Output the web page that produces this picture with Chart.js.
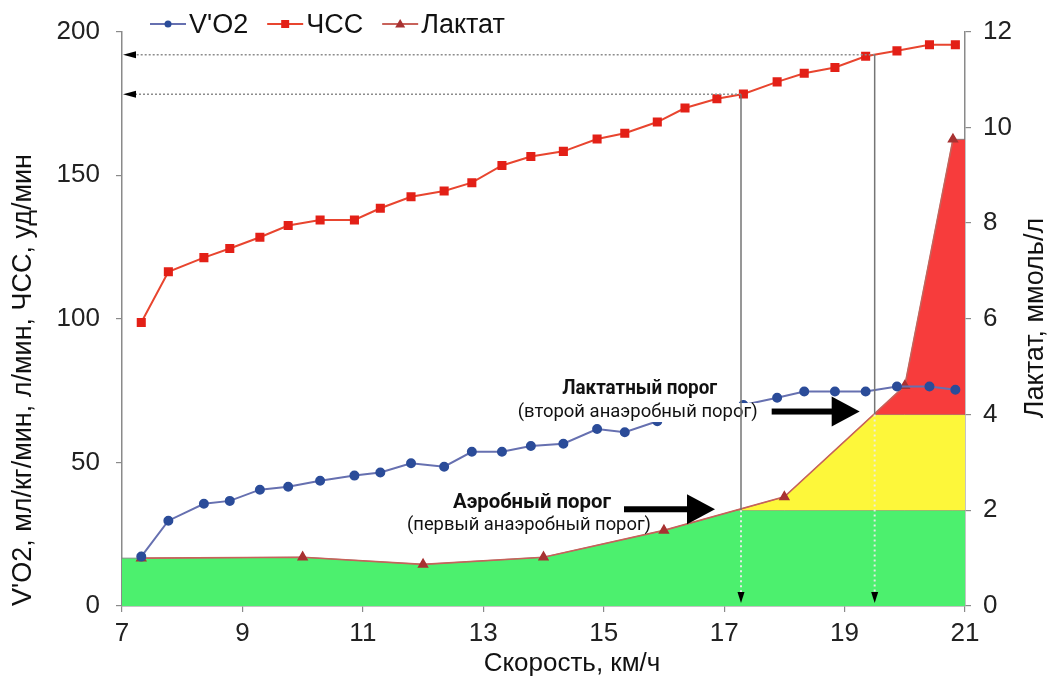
<!DOCTYPE html>
<html><head><meta charset="utf-8">
<script src="https://cdn.jsdelivr.net/npm/chart.js@4.4.0/dist/chart.umd.min.js"></script>
<style>html,body{margin:0;padding:0;background:#fff;}#wrap{width:1056px;height:682px;position:relative;}</style>
</head><body><div id="wrap"><canvas id="c" width="1056" height="682"></canvas></div>
<script>
// ---- data ----
const speed = [7.32,7.77,8.36,8.79,9.29,9.76,10.29,10.86,11.29,11.80,12.35,12.81,13.31,13.79,14.33,14.89,15.35,15.89,16.35,16.88,17.32,17.88,18.33,18.84,19.35,19.87,20.41,20.84];
const vo2 = [17.2,29.7,35.6,36.6,40.5,41.5,43.6,45.4,46.5,49.7,48.5,53.7,53.7,55.7,56.5,61.6,60.5,64.3,66.5,68.0,70.0,72.5,74.7,74.7,74.7,76.4,76.4,75.3];
const hr = [98.7,116.4,121.3,124.5,128.4,132.5,134.4,134.4,138.5,142.5,144.5,147.4,153.4,156.5,158.3,162.6,164.6,168.5,173.4,176.6,178.3,182.5,185.5,187.5,191.4,193.3,195.4,195.4];
const lactateSpeed = [7.32,10,12,14,16,18,20,20.8];
const lactate = [1.0,1.02,0.87,1.02,1.58,2.28,4.6,9.75];
const thresholdSpeed = [17.28,19.5];
const thresholdLactate = [2,4];
const xTicks = [7,9,11,13,15,17,19,21];
const leftTicks = [0,50,100,150,200];
const rightTicks = [0,2,4,6,8,10,12];
const seriesNames = ["V'O2","ЧСС","Лактат"];
const xTitle = "Скорость, км/ч";
const yTitle = "V'O2, мл/кг/мин, л/мин, ЧСС, уд/мин";
const y2Title = "Лактат, ммоль/л";
const notes = [["Аэробный порог","(первый анаэробный порог)"],["Лактатный порог","(второй анаэробный порог)"]];

// ---- helpers ----
const pts = (xs, ys) => xs.map((x,i)=>({x, y: ys[i]}));
function interp(xs, ys, x){
  for(let i=0;i<xs.length-1;i++){
    if(x>=xs[i] && x<=xs[i+1]) return ys[i]+(ys[i+1]-ys[i])*(x-xs[i])/(xs[i+1]-xs[i]);
  }
  return ys[ys.length-1];
}
// lactate polyline extended to axis ends, with crossings at threshold levels
const ext = [{x:xTicks[0], y:lactate[0]}, ...pts(lactateSpeed, lactate), {x:xTicks[xTicks.length-1], y:lactate[lactate.length-1]}];
const poly = [];
for(let i=0;i<ext.length;i++){
  poly.push(ext[i]);
  if(i<ext.length-1){
    const a=ext[i], b=ext[i+1];
    thresholdLactate.forEach(L=>{
      if((a.y-L)*(b.y-L)<0){ poly.push({x:a.x+(b.x-a.x)*(L-a.y)/(b.y-a.y), y:L}); }
    });
  }
}
poly.sort((p,q)=>p.x-q.x);
function zone(lo, hi){ return poly.map(p=>({x:p.x, y:Math.min(Math.max(p.y,lo),hi)})); }
const zoneBorder = lo => ({borderColor: c => (c.p0.parsed.y<=lo+1e-9 && c.p1.parsed.y<=lo+1e-9) ? 'rgba(0,0,0,0)' : 'rgba(120,120,120,0.8)'});

const FONT = "'Liberation Sans', Arial, sans-serif";

const overlay = {
  id:'overlay',
  afterDatasetsDraw(chart){
    const {ctx, chartArea:ca, scales:{x, y, y2}} = chart;
    ctx.save();
    const t1x = x.getPixelForValue(thresholdSpeed[0]), t1y = y2.getPixelForValue(thresholdLactate[0]);
    const t2x = x.getPixelForValue(thresholdSpeed[1]), t2y = y2.getPixelForValue(thresholdLactate[1]);
    // annotation text (optionally on a white backing)
    const fit = (txt, cx, cy, w, font, back) => {
      if(back){ ctx.fillStyle='#fff'; ctx.fillRect(cx-w/2-2+back[0], cy-back[2]/2, w+4+back[1], back[2]); }
      ctx.font = font; const m = ctx.measureText(txt).width;
      ctx.save(); ctx.translate(cx, cy); ctx.scale(w/m, 1);
      ctx.textAlign='center'; ctx.textBaseline='middle'; ctx.fillStyle='#111';
      ctx.fillText(txt, 0, 0); ctx.restore();
    };
    fit(notes[0][0], t1x-209, t1y-7, 158, "bold 20px Roboto, sans-serif", null);
    fit(notes[0][1], t1x-212, t1y+15, 244, "18px Roboto, sans-serif", null);
    fit(notes[1][0], t2x-235, t2y-26, 155, "bold 20px Roboto, sans-serif", [0,0,20]);
    fit(notes[1][1], t2x-237, t2y-2, 240, "18px Roboto, sans-serif", [0,10,19]);
    // annotation arrows
    const arrow = (x0, x1, yy) => {
      ctx.fillStyle='#000';
      ctx.fillRect(x0, yy-3, (x1-26)-x0, 6);
      ctx.beginPath(); ctx.moveTo(x1, yy); ctx.lineTo(x1-28, yy-15); ctx.lineTo(x1-28, yy+15); ctx.closePath(); ctx.fill();
    };
    arrow(t1x-117, t1x-26, t1y-1);
    arrow(t2x-103, t2x-15, t2y-3);
    // threshold guide lines
    thresholdSpeed.forEach((s,i)=>{
      const px = x.getPixelForValue(s);
      const hv = interp(speed, hr, s);
      const py = y.getPixelForValue(hv);
      const ly = y2.getPixelForValue(thresholdLactate[i]);
      ctx.strokeStyle='#8c8c8c'; ctx.lineWidth=1.5; ctx.setLineDash([2,2]);
      ctx.beginPath(); ctx.moveTo(px, py); ctx.lineTo(ca.left+10, py); ctx.stroke();
      ctx.setLineDash([]); ctx.strokeStyle='#757575'; ctx.lineWidth=1.5;
      ctx.beginPath(); ctx.moveTo(px, py); ctx.lineTo(px, ly); ctx.stroke();
      ctx.strokeStyle='rgba(235,235,235,0.95)'; ctx.lineWidth=2; ctx.setLineDash([2,3]);
      ctx.beginPath(); ctx.moveTo(px, ly); ctx.lineTo(px, ca.bottom-8); ctx.stroke();
      ctx.setLineDash([]);
      ctx.fillStyle='#000';
      ctx.beginPath(); ctx.moveTo(ca.left+1, py); ctx.lineTo(ca.left+14, py-3.5); ctx.lineTo(ca.left+14, py+3.5); ctx.closePath(); ctx.fill();
      ctx.beginPath(); ctx.moveTo(px, ca.bottom-3); ctx.lineTo(px-3.5, ca.bottom-14); ctx.lineTo(px+3.5, ca.bottom-14); ctx.closePath(); ctx.fill();
    });
    ctx.restore();
  },
  afterDraw(chart){
    const {ctx} = chart;
    ctx.save();
    ctx.fillStyle='#111'; ctx.textBaseline='middle';
    ctx.font = "26px "+FONT; ctx.textAlign='center';
    ctx.fillText(xTitle, 572, 664);
    ctx.font = "27px "+FONT;
    ctx.save(); ctx.translate(24, 380); ctx.rotate(-Math.PI/2); ctx.fillText(yTitle, 0, 0); ctx.restore();
    ctx.save(); ctx.translate(1036, 318); ctx.rotate(-Math.PI/2); ctx.fillText(y2Title, 0, 0); ctx.restore();
    // legend
    const items = [
      {name:seriesNames[0], line:'#6670b0', mk:'#2b4c99', shape:'circle'},
      {name:seriesNames[1], line:'#e8452f', mk:'#e32017', shape:'rect'},
      {name:seriesNames[2], line:'#c8625a', mk:'#a83232', shape:'tri'}
    ];
    let lx = 150; const ly = 24;
    ctx.font = "27px "+FONT; ctx.textAlign='left';
    items.forEach(it=>{
      ctx.strokeStyle=it.line; ctx.lineWidth=2;
      ctx.beginPath(); ctx.moveTo(lx, ly); ctx.lineTo(lx+36, ly); ctx.stroke();
      ctx.fillStyle=it.mk; const cx=lx+18;
      ctx.beginPath();
      if(it.shape==='circle'){ ctx.arc(cx, ly, 3.5, 0, Math.PI*2); }
      else if(it.shape==='rect'){ ctx.rect(cx-4, ly-4, 8, 8); }
      else { ctx.moveTo(cx, ly-5); ctx.lineTo(cx+5, ly+3.5); ctx.lineTo(cx-5, ly+3.5); ctx.closePath(); }
      ctx.fill();
      ctx.fillStyle='#111';
      ctx.fillText(it.name, lx+39, ly+2);
      lx += 39 + ctx.measureText(it.name).width + 19;
    });
    ctx.restore();
  }
};

const gridOpts = {drawOnChartArea:false, drawTicks:true, tickLength:6, color:'#8a8a8a', lineWidth:1.2};
const borderOpts = {display:true, color:'#8a8a8a', width:1.5};
const tickFont = {family:FONT, size:26};

new Chart(document.getElementById('c'), {
  type:'line',
  data:{ datasets:[
    {label:seriesNames[1], data:pts(speed, hr), yAxisID:'y', borderColor:'#e8452f', borderWidth:2, pointStyle:'rect', pointRadius:5, pointBackgroundColor:'#e32017', pointBorderColor:'#e32017', fill:false},
    {label:seriesNames[0], data:pts(speed, vo2), yAxisID:'y', borderColor:'#6670b0', borderWidth:2, pointStyle:'circle', pointRadius:4, pointBackgroundColor:'#2b4c99', pointBorderColor:'#2b4c99', fill:false},
    {label:seriesNames[2], data:pts(lactateSpeed, lactate), yAxisID:'y2', borderColor:'#c8625a', borderWidth:1.6, pointStyle:'triangle', pointRadius:5, pointBackgroundColor:'#a83232', pointBorderColor:'#a83232', fill:false},
    {label:'z3', data:zone(thresholdLactate[1], 100), yAxisID:'y2', backgroundColor:'#f73c3c', borderWidth:1, segment:zoneBorder(thresholdLactate[1]), pointRadius:0, fill:{value:thresholdLactate[1]}},
    {label:'z2', data:zone(thresholdLactate[0], thresholdLactate[1]), yAxisID:'y2', backgroundColor:'#fdf73a', borderWidth:1, segment:zoneBorder(thresholdLactate[0]), pointRadius:0, fill:{value:thresholdLactate[0]}},
    {label:'z1', data:zone(0, thresholdLactate[0]), yAxisID:'y2', backgroundColor:'#4cf06e', borderWidth:1, segment:zoneBorder(-1), pointRadius:0, fill:'origin'}
  ]},
  options:{
    responsive:false, animation:false, devicePixelRatio:1,
    layout:{padding:{top:22, left:0, right:0, bottom:0}},
    plugins:{legend:{display:false}, tooltip:{enabled:false}},
    scales:{
      x:{type:'linear', min:xTicks[0], max:xTicks[xTicks.length-1],
         afterBuildTicks:s=>{s.ticks = xTicks.map(v=>({value:v}));},
         afterFit:s=>{s.height=76;},
         ticks:{font:tickFont, color:'#222', padding:6, maxRotation:0, autoSkip:false},
         grid:gridOpts, border:borderOpts},
      y:{position:'left', min:leftTicks[0], max:leftTicks[leftTicks.length-1],
         afterBuildTicks:s=>{s.ticks = leftTicks.map(v=>({value:v}));},
         afterFit:s=>{s.width=122;},
         ticks:{font:tickFont, color:'#222', padding:16},
         grid:gridOpts, border:borderOpts},
      y2:{position:'right', min:rightTicks[0], max:rightTicks[rightTicks.length-1],
         afterBuildTicks:s=>{s.ticks = rightTicks.map(v=>({value:v}));},
         afterFit:s=>{s.width=91;},
         ticks:{font:tickFont, color:'#222', padding:12},
         grid:gridOpts, border:borderOpts}
    }
  },
  plugins:[overlay]
});
</script>
</body></html>
